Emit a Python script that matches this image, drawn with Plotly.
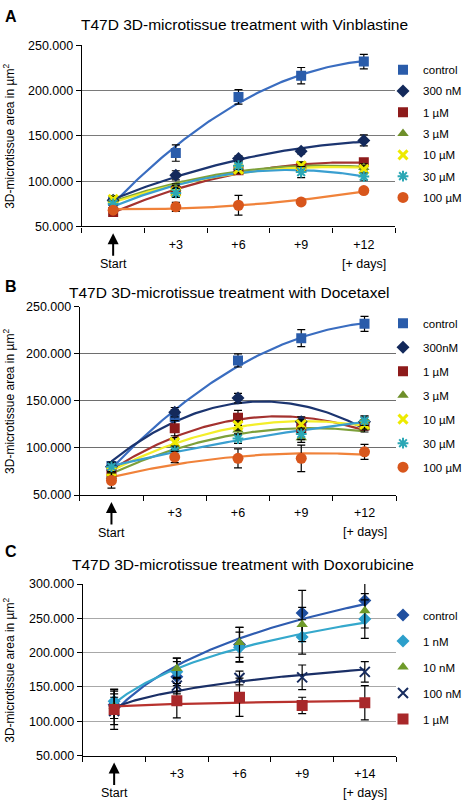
import numpy as np
import plotly.graph_objects as go

W, H = 467, 808

# ---------------- data ----------------
x_pos = [0, 1, 2, 3, 4]
tick_labels_ab = ["", "+3", "+6", "+9", "+12"]
tick_labels_c = ["", "+3", "+6", "+9", "+14"]
y_ticks_ab = [50000, 100000, 150000, 200000, 250000]
y_ticktext_ab = ["50.000", "100.000", "150.000", "200.000", "250.000"]
y_ticks_c = [50000, 100000, 150000, 200000, 250000, 300000]
y_ticktext_c = ["50.000", "100.000", "150.000", "200.000", "250.000", "300.000"]

# Panel A: Vinblastine
a_names = ["control", "300 nM", "1 µM", "3 µM", "10 µM", "30 µM", "100 µM"]
a_control = [78000, 131000, 193000, 216500, 232000]
a_300nM = [79000, 106500, 125000, 133000, 145000]
a_1uM = [66000, 89000, 112000, 116000, 121000]
a_3uM = [80000, 92000, 115000, 117000, 115000]
a_10uM = [80000, 88000, 113000, 117000, 113000]
a_30uM = [75000, 87000, 117000, 110000, 105000]
a_100uM = [68000, 71600, 73400, 77000, 89600]
a_control_err = [5000, 9000, 8000, 9000, 8000]
a_300nM_err = [4000, 5000, 3000, 3000, 6000]
a_1uM_err = [4000, 6000, 4000, 4000, 4000]
a_3uM_err = [4000, 5000, 4000, 4000, 4000]
a_10uM_err = [3000, 5000, 4000, 4000, 4000]
a_30uM_err = [3000, 5000, 4000, 6000, 4000]
a_100uM_err = [4000, 5000, 11000, 3000, 3000]

# Panel B: Docetaxel
b_names = ["control", "300nM", "1 µM", "3 µM", "10 µM", "30 µM", "100 µM"]
b_control = [81000, 132800, 193000, 216600, 231800]
b_300nM = [80000, 138000, 153000, 128000, 128000]
b_1uM = [72000, 121000, 132000, 121000, 124000]
b_3uM = [70000, 103000, 119000, 111000, 122000]
b_10uM = [75000, 106000, 124000, 125000, 125000]
b_30uM = [80000, 97000, 110000, 115000, 129000]
b_100uM = [65500, 90400, 89000, 89000, 95900]
b_control_err = [4000, 8000, 7000, 9000, 8000]
b_300nM_err = [4000, 5000, 5000, 5000, 6000]
b_1uM_err = [5000, 8000, 8000, 5000, 5000]
b_3uM_err = [5000, 5000, 5000, 5000, 5000]
b_10uM_err = [5000, 5000, 5000, 5000, 5000]
b_30uM_err = [5000, 5000, 5000, 6000, 5000]
b_100uM_err = [8000, 6000, 10000, 14000, 8000]

# Panel C: Doxorubicine
c_names = ["control", "1 nM", "10 nM", "100 nM", "1 µM"]
c_control = [124000, 165000, 212000, 258000, 276000]
c_1nM = [129000, 172000, 208000, 223000, 249000]
c_10nM = [122000, 177000, 215000, 241000, 261000]
c_100nM = [115000, 152000, 163000, 164000, 172000]
c_1uM = [117000, 130000, 135000, 123000, 127000]
c_control_err = [20000, 22000, 25000, 33000, 25000]
c_1nM_err = [18000, 20000, 22000, 25000, 28000]
c_10nM_err = [18000, 15000, 22000, 25000, 25000]
c_100nM_err = [20000, 12000, 10000, 18000, 15000]
c_1uM_err = [29000, 25000, 28000, 12000, 25000]

titles = ["T47D 3D-microtissue treatment with Vinblastine",
          "T47D 3D-microtissue treatment with Docetaxel",
          "T47D 3D-microtissue treatment with Doxorubicine"]
panel_letters = ["A", "B", "C"]
y_title = "3D-microtissue area in µm<sup>2</sup>"

# ---------------- styles ----------------
FONT = "Liberation Sans, Arial, Helvetica, sans-serif"
styles_ab = [
    dict(mc="#2A5CAA", lc="#3A6DC0", sym="square", size=10, lw=0),
    dict(mc="#13295B", lc="#1C3570", sym="diamond", size=10, lw=0),
    dict(mc="#8E1B1B", lc="#A4322F", sym="square", size=10, lw=0),
    dict(mc="#6E8F2A", lc="#7DA03A", sym="triangle-up", size=10, lw=0),
    dict(mc="#EDEA00", lc="#F3EE2A", sym="x-thin-open", size=9, lw=3),
    dict(mc="#2BA7B5", lc="#3A9FD0", sym="asterisk-open", size=9, lw=2),
    dict(mc="#D8561C", lc="#F0823A", sym="circle", size=11, lw=0),
]
styles_c = [
    dict(mc="#1F4FA0", lc="#2E5CB0", sym="diamond", size=10, lw=0),
    dict(mc="#2C9FCB", lc="#35A8CC", sym="diamond", size=10, lw=0),
    dict(mc="#6E9A2A", lc=None, sym="triangle-up", size=10, lw=0),
    dict(mc="#162B5E", lc="#1A2F66", sym="x-thin-open", size=10, lw=2),
    dict(mc="#A8282A", lc="#B8322E", sym="square", size=11, lw=0),
]

panels = [
    dict(names=a_names,
         vals=[a_control, a_300nM, a_1uM, a_3uM, a_10uM, a_30uM, a_100uM],
         errs=[a_control_err, a_300nM_err, a_1uM_err, a_3uM_err, a_10uM_err, a_30uM_err, a_100uM_err],
         styles=styles_ab, fit="poly", ticks=tick_labels_ab,
         yt=y_ticks_ab, ytt=y_ticktext_ab, yr=[50000, 250000],
         box=(82, 396, 39, 223.3), grid="#7A7A7A", leg_y=49, gap=21.3,
         title_xy=(245, 18), letter_y=10),
    dict(names=b_names,
         vals=[b_control, b_300nM, b_1uM, b_3uM, b_10uM, b_30uM, b_100uM],
         errs=[b_control_err, b_300nM_err, b_1uM_err, b_3uM_err, b_10uM_err, b_30uM_err, b_100uM_err],
         styles=styles_ab, fit="poly", ticks=tick_labels_ab,
         yt=y_ticks_ab, ytt=y_ticktext_ab, yr=[50000, 250000],
         box=(80, 397, 305, 496.7), grid="#6E6E6E", leg_y=307, gap=24,
         title_xy=(229, 291), letter_y=284),
    dict(names=c_names,
         vals=[c_control, c_1nM, c_10nM, c_100nM, c_1uM],
         errs=[c_control_err, c_1nM_err, c_10nM_err, c_100nM_err, c_1uM_err],
         styles=styles_c, fit="log", ticks=tick_labels_c,
         yt=y_ticks_c, ytt=y_ticktext_c, yr=[50000, 300000],
         box=(83, 397, 587.3, 761.7), grid="#A8A8A8", leg_y=604, gap=26,
         title_xy=(244, 567), letter_y=554),
]


def px(x):
    return x / W


def py(y):
    return 1 - y / H


fig = go.Figure()
layout = dict(width=W, height=H, margin=dict(l=0, r=0, t=0, b=0),
              paper_bgcolor="white", plot_bgcolor="white",
              font=dict(family=FONT, size=12, color="black"),
              annotations=[])

xd = np.linspace(0, 4, 121)
xs = np.array(x_pos, dtype=float)

for i, p in enumerate(panels):
    sfx = "" if i == 0 else str(i + 1)
    xa, ya = "x" + sfx, "y" + sfx
    leg = "legend" + sfx
    # trendlines (fitted from the data, like the spreadsheet trendlines)
    for k, (vals, st) in enumerate(zip(p["vals"], p["styles"])):
        if st["lc"] is None:
            continue
        v = np.array(vals, dtype=float)
        if p["fit"] == "poly":
            coef = np.polyfit(xs, v, 2)
            yd = np.polyval(coef, xd)
        else:
            coef = np.polyfit(np.log(xs + 1), v, 1)
            yd = np.polyval(coef, np.log(xd + 1))
        fig.add_trace(go.Scatter(x=xd, y=yd, mode="lines", xaxis=xa, yaxis=ya,
                                 legend=leg, legendgroup=f"{i}-{k}",
                                 line=dict(color=st["lc"], width=2.2),
                                 showlegend=False, hoverinfo="skip"))
    # markers with error bars
    for k, (name, vals, errs, st) in enumerate(zip(p["names"], p["vals"], p["errs"], p["styles"])):
        fig.add_trace(go.Scatter(
            x=x_pos, y=vals, mode="markers", name=name, xaxis=xa, yaxis=ya,
            legend=leg, legendgroup=f"{i}-{k}",
            marker=dict(symbol=st["sym"], size=st["size"], color=st["mc"],
                        line=dict(color=st["mc"], width=st["lw"])),
            error_y=dict(type="data", array=errs, color="black", thickness=1.2, width=4),
        ))
    x0, x1, y0, y1 = p["box"]
    layout["xaxis" + sfx] = dict(
        domain=[px(x0), px(x1)], anchor=ya, range=[-0.5, 4.5],
        tickmode="array", tickvals=x_pos, ticktext=p["ticks"], ticks="",
        ticklabelstandoff=6,
        minor=dict(tickmode="linear", tick0=-0.5, dtick=1, ticks="outside",
                   ticklen=5, tickcolor="black", tickwidth=1),
        showline=True, linecolor="black", linewidth=1.3, showgrid=False,
        zeroline=False, fixedrange=True, tickfont=dict(size=12.5))
    layout["yaxis" + sfx] = dict(
        domain=[py(y1), py(y0)], anchor=xa, range=p["yr"],
        tickmode="array", tickvals=p["yt"], ticktext=p["ytt"],
        ticks="outside", ticklen=5, tickcolor="black",
        showline=True, linecolor="black", linewidth=1.3,
        showgrid=True, gridcolor=p["grid"], gridwidth=1, zeroline=False,
        tickfont=dict(size=12.5), fixedrange=True)
    layout[leg] = dict(x=px(384), y=py(p["leg_y"]), xanchor="left", yanchor="top",
                       bgcolor="rgba(0,0,0,0)", borderwidth=0,
                       font=dict(size=11.5), tracegroupgap=p["gap"] - 19,
                       itemsizing="trace")
    # y axis title
    layout["annotations"].append(dict(
        text=y_title, xref="paper", yref="paper", x=px(9), y=py((y0 + y1) / 2),
        xanchor="center", yanchor="middle", textangle=-90, showarrow=False,
        font=dict(size=12)))
    # titles & letters
    tx, ty = p["title_xy"]
    layout["annotations"].append(dict(
        text=titles[i], xref="paper", yref="paper",
        x=px(tx), y=py(ty), xanchor="center", yanchor="middle",
        showarrow=False, font=dict(size=15.5)))
    layout["annotations"].append(dict(
        text="<b>" + panel_letters[i] + "</b>", xref="paper", yref="paper",
        x=px(3), y=py(p["letter_y"]), xanchor="left", yanchor="middle",
        showarrow=False, font=dict(size=16)))
    # Start arrow and [+ days]
    layout["annotations"].append(dict(
        text="Start", xref=xa, yref="paper", x=0, y=py(y1 + 7),
        ax=0, ay=31, showarrow=True, arrowhead=2, arrowsize=1.1, arrowwidth=2,
        arrowcolor="black", font=dict(size=12.5)))
    layout["annotations"].append(dict(
        text="[+ days]", xref=xa, yref="paper", x=4, y=py(y1 + 38),
        xanchor="center", yanchor="middle", showarrow=False, font=dict(size=12.5)))

fig.update_layout(**layout)
fig.write_html("out.html", config={"displayModeBar": False},
               post_script="document.body.style.margin='0';document.body.style.overflow='hidden';")
